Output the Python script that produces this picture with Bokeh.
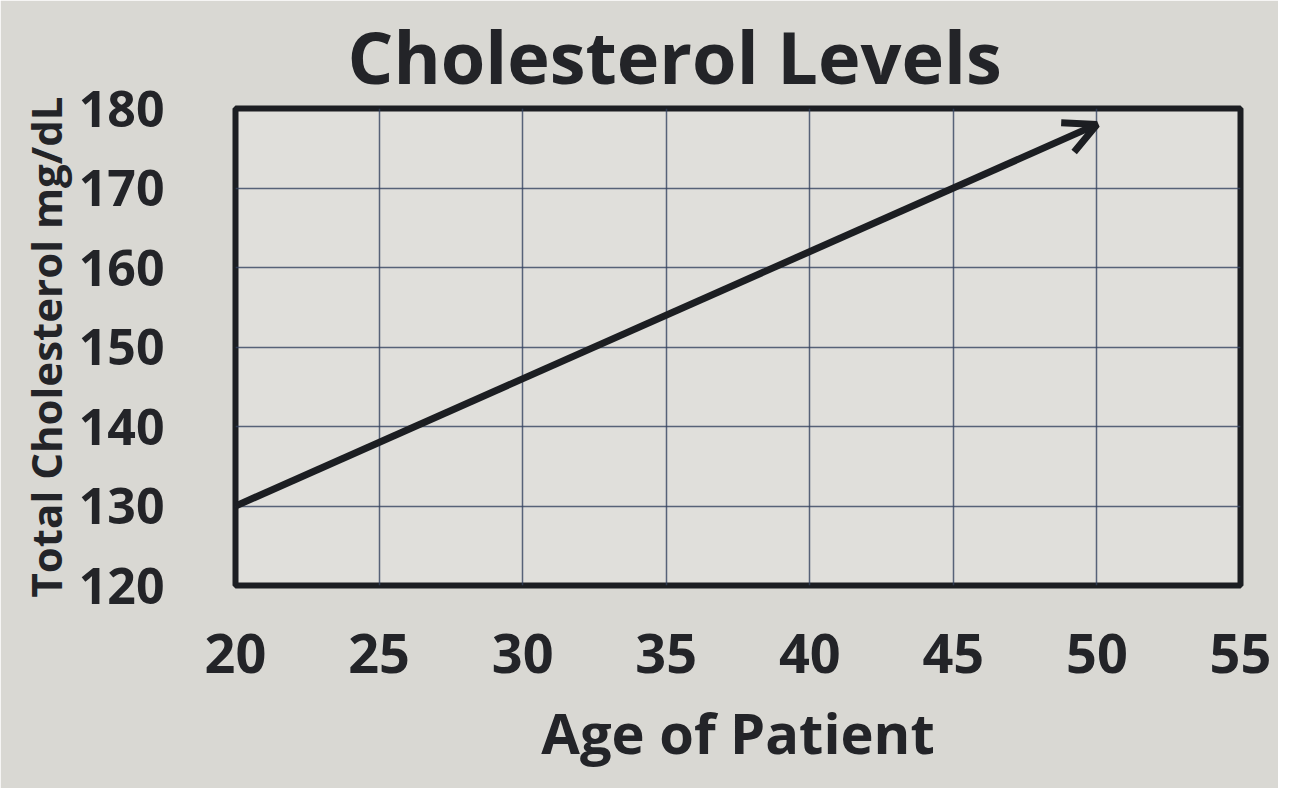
from bokeh.plotting import figure
from bokeh.models import Arrow, OpenHead, FixedTicker, ColumnDataSource, Range1d
from bokeh.embed import file_html
from bokeh.resources import INLINE

# Data
ages = [20, 50]
cholesterol = [130, 178]
x_ticks = [20, 25, 30, 35, 40, 45, 50, 55]
y_ticks = [120, 130, 140, 150, 160, 170, 180]

title_text = "Cholesterol Levels"
x_label = "Age of Patient"
y_label = "Total Cholesterol mg/dL"

FONT = "Open Sans"
TXT = "#232428"

p = figure(width=1278, height=788, output_backend="svg", toolbar_location=None,
           x_range=Range1d(20, 55), y_range=Range1d(120, 180),
           min_border_left=235, min_border_right=38, min_border_top=107, min_border_bottom=203)

p.title.text = title_text
p.title.align = "left"
p.title.offset = 112
p.title.text_font = FONT
p.title.text_font_style = "bold"
p.title.text_font_size = "72px"
p.title.text_color = TXT
p.title.standoff = 8

p.border_fill_color = "#d9d8d3"
p.background_fill_color = "#e0dfdb"
p.outline_line_color = "#1c1e22"
p.outline_line_width = 6

for ax in (p.xaxis[0], p.yaxis[0]):
    ax.axis_line_color = None
    ax.major_tick_line_color = None
    ax.minor_tick_line_color = None
    ax.major_label_text_font = FONT
    ax.major_label_text_font_style = "bold"
    ax.major_label_text_color = TXT
    ax.axis_label_text_font = FONT
    ax.axis_label_text_font_style = "bold"
    ax.axis_label_text_color = TXT

p.xaxis.ticker = FixedTicker(ticks=x_ticks)
p.yaxis.ticker = FixedTicker(ticks=y_ticks)
p.xaxis.major_label_text_font_size = "54px"
p.yaxis.major_label_text_font_size = "50px"
p.xaxis.major_label_standoff = 42
p.yaxis.major_label_standoff = 65
p.xaxis.axis_label = x_label
p.xaxis.axis_label_text_font_size = "56px"
p.xaxis.axis_label_standoff = 18
p.yaxis.axis_label = y_label
p.yaxis.axis_label_text_font_size = "42px"
p.yaxis.axis_label_standoff = 2

p.xgrid.grid_line_color = "#34425f"
p.ygrid.grid_line_color = "#34425f"
p.xgrid.grid_line_width = 1.5
p.ygrid.grid_line_width = 1.5
p.xgrid.grid_line_alpha = 0.8
p.ygrid.grid_line_alpha = 0.8

src = ColumnDataSource(dict(x0=ages[:-1], y0=cholesterol[:-1], x1=ages[1:], y1=cholesterol[1:]))
p.add_layout(Arrow(x_start="x0", y_start="y0", x_end="x1", y_end="y1", source=src,
                   line_color="#1c1e22", line_width=7,
                   end=OpenHead(size=32, line_width=7, line_color="#1c1e22")))

open("out.html", "w").write(file_html(p, INLINE))
